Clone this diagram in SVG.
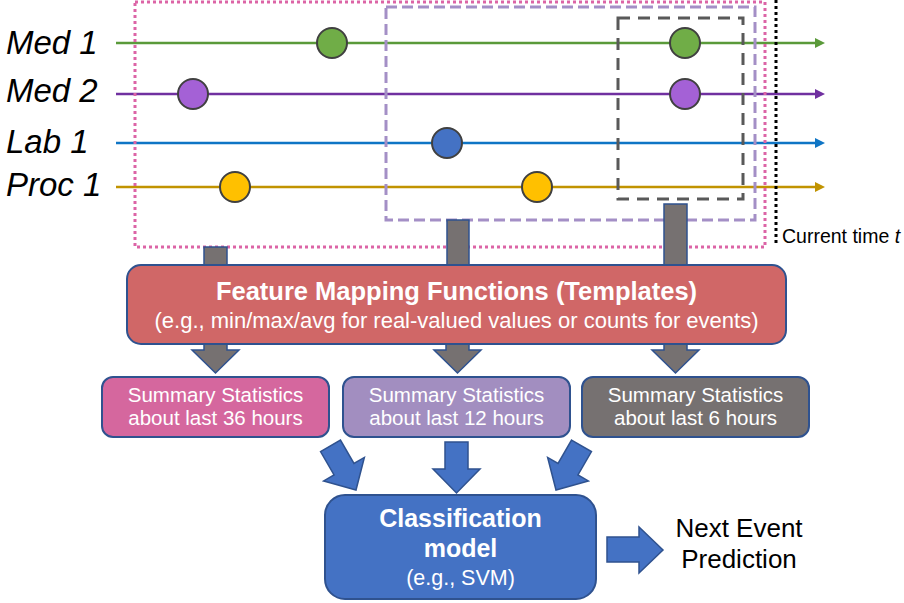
<svg xmlns="http://www.w3.org/2000/svg" width="904" height="603" viewBox="0 0 904 603">
<style>
  .lbl{font-family:"Liberation Sans",Arial,sans-serif;font-style:italic;font-size:33px;fill:#000}
  .lane{stroke-width:2.5;fill:none}
  .ev{stroke:#404040;stroke-width:2}
  .box{stroke:#2F528F;stroke-width:2}
  .wt{font-family:"Liberation Sans",Arial,sans-serif;fill:#fff;text-anchor:middle}
  .bt{font-family:"Liberation Sans",Arial,sans-serif;fill:#000;text-anchor:middle}
  .gconn{fill:#767171;stroke:#2F528F;stroke-width:1.5}
  .barrow{fill:#4472C4;stroke:#2F528F;stroke-width:1.5}
</style>
<defs>
  <marker id="mG" markerUnits="userSpaceOnUse" markerWidth="10" markerHeight="10" refX="0" refY="5" orient="auto"><path d="M0,0 L10,5 L0,10 z" fill="#5A9A3A"/></marker>
  <marker id="mP" markerUnits="userSpaceOnUse" markerWidth="10" markerHeight="10" refX="0" refY="5" orient="auto"><path d="M0,0 L10,5 L0,10 z" fill="#7030A0"/></marker>
  <marker id="mB" markerUnits="userSpaceOnUse" markerWidth="10" markerHeight="10" refX="0" refY="5" orient="auto"><path d="M0,0 L10,5 L0,10 z" fill="#0F75C5"/></marker>
  <marker id="mO" markerUnits="userSpaceOnUse" markerWidth="10" markerHeight="10" refX="0" refY="5" orient="auto"><path d="M0,0 L10,5 L0,10 z" fill="#C19300"/></marker>
  <path id="blockDown" d="M-11.5,-51 L11.5,-51 L11.5,-24 L23.5,-24 L0,0 L-23.5,-24 L-11.5,-24 Z"/>
</defs>

<g id="timelines">
  <g id="med1">
    <text class="lbl" x="6" y="54">Med 1</text>
    <line class="lane" x1="116" y1="43" x2="815" y2="43" stroke="#5A9A3A" marker-end="url(#mG)"/>
    <circle class="ev" cx="332" cy="43" r="15" fill="#70AD47"/>
    <circle class="ev" cx="685" cy="43" r="15" fill="#70AD47"/>
  </g>
  <g id="med2">
    <text class="lbl" x="6" y="102">Med 2</text>
    <line class="lane" x1="116" y1="94" x2="815" y2="94" stroke="#7030A0" marker-end="url(#mP)"/>
    <circle class="ev" cx="193" cy="94" r="15" fill="#A461D6"/>
    <circle class="ev" cx="685" cy="94" r="15" fill="#A461D6"/>
  </g>
  <g id="lab1">
    <text class="lbl" x="6" y="153">Lab 1</text>
    <line class="lane" x1="116" y1="143" x2="815" y2="143" stroke="#0F75C5" marker-end="url(#mB)"/>
    <circle class="ev" cx="447" cy="143" r="15" fill="#4472C4"/>
  </g>
  <g id="proc1">
    <text class="lbl" x="6" y="196">Proc 1</text>
    <line class="lane" x1="116" y1="187" x2="815" y2="187" stroke="#C19300" marker-end="url(#mO)"/>
    <circle class="ev" cx="235" cy="187" r="15" fill="#FFC000"/>
    <circle class="ev" cx="537" cy="187" r="15" fill="#FFC000"/>
  </g>
</g>

<g id="window36">
  <rect x="135" y="2" width="630" height="245" fill="none" stroke="#DC64A6" stroke-width="3" stroke-dasharray="3 3"/>
</g>
<g id="window12">
  <rect x="386" y="7" width="369" height="213" fill="none" stroke="#A48FC6" stroke-width="3" stroke-dasharray="11 5"/>
</g>
<g id="window6">
  <rect x="618" y="18" width="125" height="181" fill="none" stroke="#595959" stroke-width="3" stroke-dasharray="12 8"/>
</g>
<g id="current-time">
  <line x1="776" y1="0" x2="776" y2="246" stroke="#000" stroke-width="3" stroke-dasharray="3 3"/>
  <text x="782" y="243" font-family="Liberation Sans, Arial, sans-serif" font-size="19.5" fill="#000">Current time <tspan font-style="italic">t</tspan></text>
</g>

<g id="connectors">
  <rect class="gconn" x="204" y="247" width="23" height="20"/>
  <rect class="gconn" x="447" y="220" width="22" height="47"/>
  <rect class="gconn" x="664" y="204" width="23" height="63"/>
  <path class="gconn" d="M204,342 L227,342 L227,350 L239,350 L215.5,373 L192,350 L204,350 Z"/>
  <path class="gconn" d="M446,342 L469,342 L469,350 L481,350 L457.5,373 L434,350 L446,350 Z"/>
  <path class="gconn" d="M664,342 L687,342 L687,350 L699,350 L675.5,373 L652,350 L664,350 Z"/>
  <use href="#blockDown" class="barrow" transform="translate(356,490) rotate(-30)"/>
  <use href="#blockDown" class="barrow" transform="translate(456.5,493)"/>
  <use href="#blockDown" class="barrow" transform="translate(556,490) rotate(30)"/>
  <path class="barrow" d="M607,537 L639,537 L639,527 L663,550 L639,573 L639,562 L607,562 Z"/>
</g>

<g id="feature-mapping">
  <rect class="box" x="127" y="265" width="659" height="79" rx="14" fill="#D06767"/>
  <text class="wt" x="456.5" y="300" font-size="25.5" font-weight="bold">Feature Mapping Functions (Templates)</text>
  <text class="wt" x="456.5" y="328" font-size="22">(e.g., min/max/avg for real-valued values or counts for events)</text>
</g>

<g id="summary36">
  <rect class="box" x="102" y="377" width="227" height="60" rx="11" fill="#D5679E"/>
  <text class="wt" x="215.5" y="402" font-size="20.5">Summary Statistics</text>
  <text class="wt" x="215.5" y="425" font-size="20.5">about last 36 hours</text>
</g>
<g id="summary12">
  <rect class="box" x="343" y="377" width="227" height="60" rx="11" fill="#A28EC0"/>
  <text class="wt" x="456.5" y="402" font-size="20.5">Summary Statistics</text>
  <text class="wt" x="456.5" y="425" font-size="20.5">about last 12 hours</text>
</g>
<g id="summary6">
  <rect class="box" x="582" y="377" width="227" height="60" rx="11" fill="#767171"/>
  <text class="wt" x="695.5" y="402" font-size="20.5">Summary Statistics</text>
  <text class="wt" x="695.5" y="425" font-size="20.5">about last 6 hours</text>
</g>

<g id="classifier">
  <rect class="box" x="325" y="495" width="271" height="104" rx="20" fill="#4472C4"/>
  <text class="wt" x="460.5" y="527" font-size="25" font-weight="bold">Classification</text>
  <text class="wt" x="460.5" y="557" font-size="25" font-weight="bold">model</text>
  <text class="wt" x="460.5" y="585" font-size="21.5">(e.g., SVM)</text>
</g>

<g id="prediction">
  <text class="bt" x="739" y="537" font-size="26">Next Event</text>
  <text class="bt" x="739" y="568" font-size="26">Prediction</text>
</g>
</svg>
